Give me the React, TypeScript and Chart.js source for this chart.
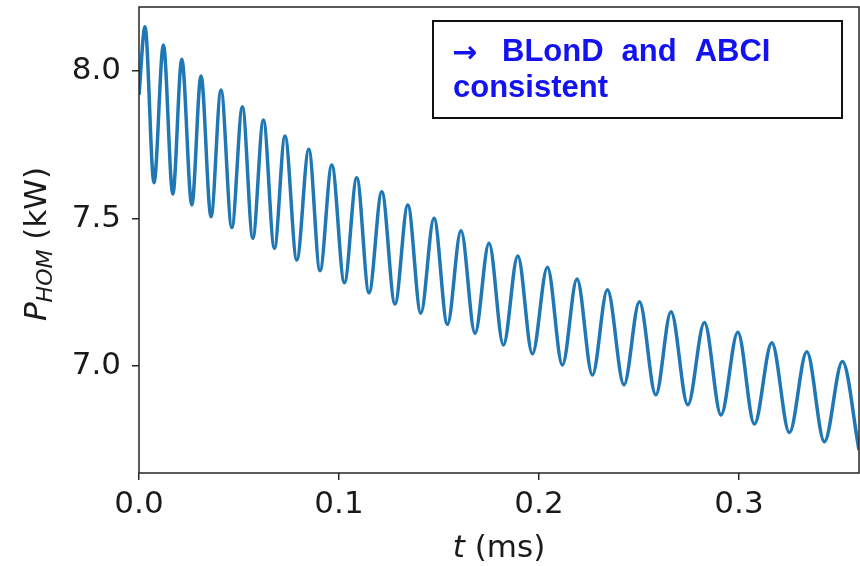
import React, { useEffect, useRef } from "react";
import { Chart, registerables } from "chart.js";

Chart.register(...registerables);

// Time (ms) of each read-off extreme of the oscillating HOM power trace
const tValues = [
  0.0, 0.003, 0.0075, 0.0122, 0.0169, 0.0214, 0.0264, 0.031, 0.036, 0.041,
  0.0464, 0.0517, 0.0569, 0.0622, 0.0677, 0.073, 0.0789, 0.0849, 0.0905,
  0.0964, 0.1027, 0.1089, 0.115, 0.1214, 0.128, 0.1344, 0.1409, 0.1475,
  0.1542, 0.161, 0.168, 0.175, 0.1822, 0.1894, 0.1967, 0.2042, 0.2117,
  0.219, 0.2267, 0.2342, 0.2425, 0.2502, 0.2584, 0.266, 0.2744, 0.2827,
  0.291, 0.2994, 0.3077, 0.3164, 0.3252, 0.3339, 0.3427, 0.3517, 0.36,
];
// P_HOM (kW) at those times
const pValues = [
  7.919, 8.15, 7.621, 8.088, 7.583, 8.04, 7.546, 7.983, 7.506, 7.936,
  7.469, 7.879, 7.433, 7.834, 7.399, 7.78, 7.359, 7.735, 7.323,
  7.681, 7.282, 7.638, 7.248, 7.591, 7.21, 7.546, 7.179, 7.501,
  7.141, 7.458, 7.111, 7.416, 7.071, 7.373, 7.041, 7.335, 7.003,
  7.295, 6.969, 7.258, 6.936, 7.218, 6.902, 7.184, 6.868, 7.147,
  6.834, 7.114, 6.803, 7.079, 6.774, 7.048, 6.743, 7.015, 6.715,
];

const xTickValues = [0, 0.1, 0.2, 0.3];
const yTickValues = [7.0, 7.5, 8.0];
const xRange = [0, 0.36];
const yRange = [6.637, 8.217];

const yTitleMain = "P";
const yTitleSub = "HOM";
const yTitleUnit = " (kW)";
const xTitleVar = "t";
const xTitleUnit = " (ms)";
const noteArrow = "→";
const noteLine1 = ["BLonD", "and", "ABCI"];
const noteLine2 = "consistent";

const FONT = "'DejaVu Sans', sans-serif";
const TEXT = "#1a1a1a";
const LINE = "#1f77b4";
const NOTE_BLUE = "#1212f2";

const decorPlugin = {
  id: "decor",
  afterDatasetsDraw(chart: any) {
    const { ctx, chartArea: a } = chart;
    ctx.save();
    // axes frame
    ctx.strokeStyle = "#262626";
    ctx.lineWidth = 1.5;
    ctx.strokeRect(a.left, a.top, a.right - a.left, a.bottom - a.top);

    // x title
    ctx.fillStyle = TEXT;
    ctx.textBaseline = "alphabetic";
    ctx.font = `italic 31px ${FONT}`;
    const wv = ctx.measureText(xTitleVar).width;
    ctx.font = `31px ${FONT}`;
    const wu = ctx.measureText(xTitleUnit).width;
    const x0 = (a.left + a.right) / 2 - (wv + wu) / 2;
    ctx.font = `italic 31px ${FONT}`;
    ctx.fillText(xTitleVar, x0, 557);
    ctx.font = `31px ${FONT}`;
    ctx.fillText(xTitleUnit, x0 + wv, 557);

    // y title (rotated)
    ctx.save();
    ctx.translate(46, (a.top + a.bottom) / 2 + 4);
    ctx.rotate(-Math.PI / 2);
    ctx.font = `italic 31px ${FONT}`;
    const wm = ctx.measureText(yTitleMain).width;
    ctx.font = `italic 22px ${FONT}`;
    const ws = ctx.measureText(yTitleSub).width;
    ctx.font = `31px ${FONT}`;
    const wk = ctx.measureText(yTitleUnit).width;
    const s = -(wm + ws + wk) / 2;
    ctx.font = `italic 31px ${FONT}`;
    ctx.fillText(yTitleMain, s, 0);
    ctx.font = `italic 22px ${FONT}`;
    ctx.fillText(yTitleSub, s + wm, 6);
    ctx.font = `31px ${FONT}`;
    ctx.fillText(yTitleUnit, s + wm + ws, 0);
    ctx.restore();

    // note box
    ctx.fillStyle = "#ffffff";
    ctx.fillRect(433, 21, 409, 97);
    ctx.strokeStyle = "#111111";
    ctx.lineWidth = 2;
    ctx.strokeRect(433, 21, 409, 97);
    ctx.fillStyle = NOTE_BLUE;
    ctx.font = `bold 30px 'DejaVu Sans', sans-serif`;
    let nx = 452;
    ctx.fillText(noteArrow, nx, 62);
    nx = 502;
    ctx.font = `bold 31px 'Liberation Sans', Arial, sans-serif`;
    for (const w of noteLine1) {
      ctx.fillText(w, nx, 61);
      nx += ctx.measureText(w).width + 18;
    }
    ctx.fillText(noteLine2, 453, 97);
    ctx.restore();
  },
};

export default function App() {
  const ref = useRef<HTMLCanvasElement>(null);
  useEffect(() => {
    document.body.style.margin = "0";
    const canvas = ref.current!;
    const points = tValues.map((t, i) => ({ x: t, y: pValues[i] }));
    const chart = new Chart(canvas, {
      type: "line",
      data: {
        datasets: [
          {
            data: points,
            borderColor: LINE,
            borderWidth: 3.5,
            pointRadius: 0,
            cubicInterpolationMode: "monotone",
            fill: false,
          },
        ],
      },
      options: {
        animation: false,
        responsive: false,
        devicePixelRatio: 1,
        layout: { padding: { top: 7, right: 1, left: 0, bottom: 0 } },
        plugins: { legend: { display: false }, tooltip: { enabled: false } },
        scales: {
          x: {
            type: "linear",
            min: xRange[0],
            max: xRange[1],
            afterBuildTicks: (sc: any) => {
              sc.ticks = xTickValues.map((v) => ({ value: v }));
            },
            afterFit: (sc: any) => {
              sc.height = 93;
              sc.paddingLeft = 0;
              sc.paddingRight = 0;
            },
            grid: {
              drawOnChartArea: false,
              drawTicks: true,
              tickLength: 7,
              color: "#262626",
              lineWidth: 1.5,
            },
            border: { display: false },
            ticks: {
              padding: 6,
              color: TEXT,
              font: { family: FONT, size: 31 },
              maxRotation: 0,
              callback: (v: any) => Number(v).toFixed(1),
            },
          },
          y: {
            type: "linear",
            min: yRange[0],
            max: yRange[1],
            afterBuildTicks: (sc: any) => {
              sc.ticks = yTickValues.map((v) => ({ value: v }));
            },
            afterFit: (sc: any) => {
              sc.width = 139;
              sc.paddingTop = 0;
              sc.paddingBottom = 0;
            },
            grid: {
              drawOnChartArea: false,
              drawTicks: true,
              tickLength: 7,
              color: "#262626",
              lineWidth: 1.5,
            },
            border: { display: false },
            ticks: {
              padding: 11,
              color: TEXT,
              font: { family: FONT, size: 31 },
              callback: (v: any) => Number(v).toFixed(1),
            },
          },
        },
      },
      plugins: [decorPlugin],
    });
    return () => chart.destroy();
  }, []);
  return (
    <div style={{ position: "absolute", left: 0, top: 0, width: 860, height: 566 }}>
      <canvas ref={ref} width={860} height={566} />
    </div>
  );
}
